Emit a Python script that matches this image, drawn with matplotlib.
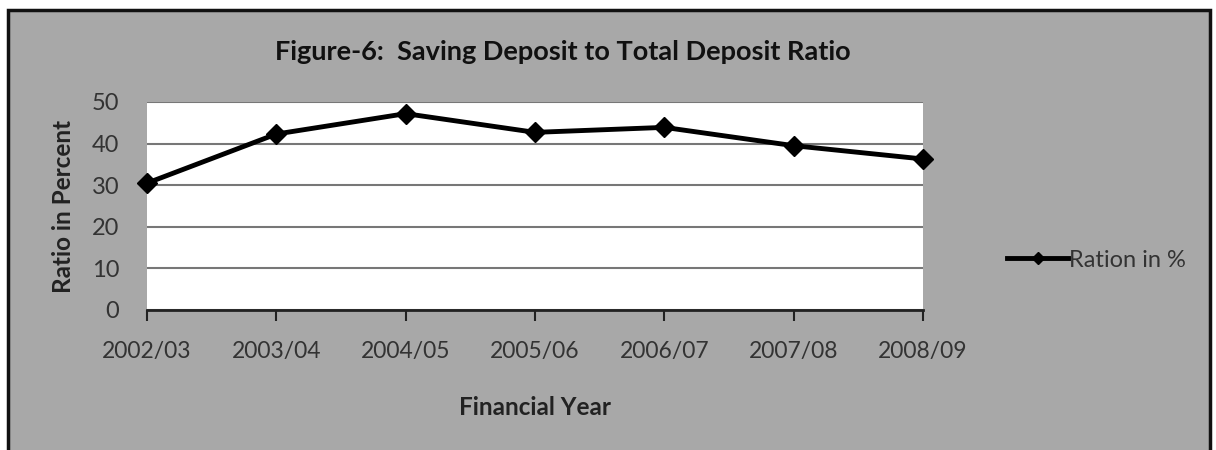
import matplotlib.pyplot as plt
from matplotlib.patches import Rectangle

years = ["2002/03", "2003/04", "2004/05", "2005/06", "2006/07", "2007/08", "2008/09"]
ratio = [30.5, 42.3, 47.2, 42.7, 43.9, 39.5, 36.3]

BG = "#a8a8a8"
plt.rcParams['font.family'] = ['Lato', 'DejaVu Sans']

fig = plt.figure(figsize=(12.16, 4.5), dpi=100)
fig.patch.set_facecolor("white")
# gray chart panel with dark frame
fig.patches.append(Rectangle((8 / 1216, -0.05), 1202 / 1216, 1 - 10 / 450 + 0.05,
                             transform=fig.transFigure, facecolor=BG,
                             edgecolor="#111111", linewidth=2.5, zorder=-5))

ax = fig.add_axes([147 / 1216, 1 - 310 / 450, 776 / 1216, 208 / 450])
ax.set_facecolor("white")
x = list(range(len(years)))
ax.plot(x, ratio, color="black", lw=3.5, marker="D", markersize=10, label="Ration in %",
        zorder=3, clip_on=False)

ax.set_xlim(0, len(years) - 1)
ax.set_ylim(0, 50)
ax.set_yticks(range(0, 51, 10))
ax.set_xticks(x)
ax.set_xticklabels(years)
ax.yaxis.grid(True, color="#777777", lw=1.5)
ax.set_axisbelow(True)
for s in ["top", "right", "left"]:
    ax.spines[s].set_visible(False)
ax.spines["bottom"].set_color("#222222")
ax.spines["bottom"].set_linewidth(2)
ax.tick_params(axis="x", direction="out", length=8, width=1.5, colors="#222222",
               labelsize=16.5, pad=14, labelcolor="#333333")
ax.tick_params(axis="y", length=0, labelsize=17, pad=20, labelcolor="#333333")

ax.set_ylabel("Ratio in Percent", fontsize=17.5, fontweight="bold", color="#222222", labelpad=12)
ax.set_xlabel("Financial Year", fontsize=17.5, fontweight="bold", color="#222222", labelpad=25)

fig.text(563 / 1216, 1 - 52 / 450, "Figure-6:  Saving Deposit to Total Deposit Ratio",
         ha="center", va="center", fontsize=19.5, fontweight="bold", color="#111111")

ax.legend(loc="center left", bbox_to_anchor=(1.108, 0.24), frameon=False, fontsize=17,
          handlelength=2.6, handletextpad=0.05, borderaxespad=0, borderpad=0,
          markerscale=0.65, labelcolor="#333333")

fig.savefig("out.png", dpi=100, facecolor=fig.get_facecolor())
